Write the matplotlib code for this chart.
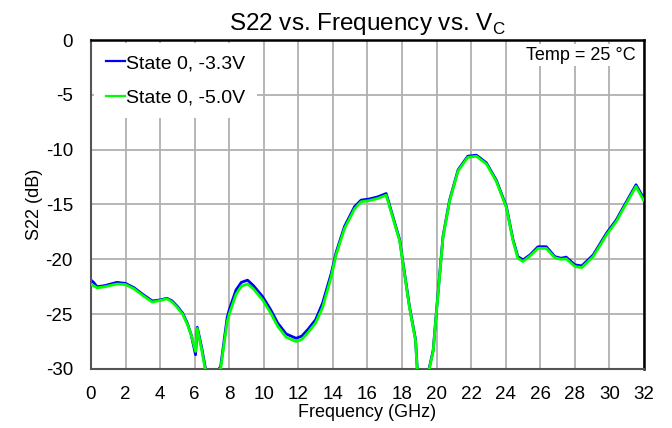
import matplotlib
matplotlib.use("Agg")
import matplotlib.pyplot as plt

plt.rcParams['font.family'] = ['Liberation Sans', 'DejaVu Sans']
plt.rcParams['axes.unicode_minus'] = False

freq_a = [0.0, 0.15, 0.35, 0.8, 1.5, 2.0, 2.5, 3.0, 3.55, 4.0, 4.4, 4.7, 5.0, 5.3, 5.57, 5.8, 6.05, 6.15, 6.4, 6.63, 6.9,
          7.2, 7.4, 7.5, 7.88, 8.0, 8.39, 8.7, 9.06, 9.4, 9.93, 10.4, 10.8, 11.29, 11.87, 12.2, 12.55, 13.0, 13.4, 13.9,
          14.18, 14.67, 15.25, 15.63, 16.1, 16.6, 17.08, 17.86, 18.43, 18.78, 18.88, 19.1, 19.4, 19.56, 19.8, 19.98,
          20.37, 20.75, 21.24, 21.8, 22.3, 22.88, 23.46, 24.04, 24.42, 24.7, 25.0, 25.4, 25.87, 26.35, 26.84, 27.2,
          27.5, 28.0, 28.4, 29.06, 29.84, 30.4, 31.0, 31.54, 31.97]
s22_33v = [-21.9, -22.1, -22.5, -22.4, -22.1, -22.2, -22.6, -23.2, -23.8, -23.7, -23.55, -23.8, -24.3, -24.9, -25.8, -26.9, -28.7, -26.2, -28.0, -30.0, -32.0,
           -32.0, -30.0, -29.8, -25.3, -24.6, -22.8, -22.1, -21.9, -22.4, -23.4, -24.6, -25.8, -26.8, -27.2, -27.0, -26.4, -25.5, -24.0, -21.3,
           -19.4, -17.0, -15.2, -14.6, -14.5, -14.3, -14.0, -18.2, -24.3, -27.3, -30.0, -33.0, -33.0, -30.0, -28.3, -24.9,
           -17.9, -14.6, -11.85, -10.6, -10.5, -11.2, -12.8, -15.2, -18.2, -19.75, -20.05, -19.6, -18.85, -18.85, -19.75, -19.9,
           -19.8, -20.5, -20.6, -19.6, -17.6, -16.4, -14.7, -13.2, -14.4]
s22_50v = [-22.3, -22.4, -22.6, -22.5, -22.25, -22.3, -22.7, -23.3, -23.9, -23.75, -23.6, -23.9, -24.4, -25.0, -25.9, -26.9, -28.4, -26.3, -28.2, -30.2, -32.0,
           -32.0, -30.2, -30.0, -25.7, -25.0, -23.2, -22.45, -22.25, -22.7, -23.7, -24.9, -26.1, -27.1, -27.5, -27.3, -26.7, -25.8, -24.4, -21.6,
           -19.6, -17.2, -15.4, -14.75, -14.65, -14.45, -14.15, -18.3, -24.4, -27.4, -30.1, -33.0, -33.0, -30.1, -28.4, -25.0,
           -18.0, -14.7, -11.95, -10.7, -10.6, -11.3, -12.9, -15.3, -18.3, -19.9, -20.2, -19.7, -19.0, -19.0, -19.85, -20.0,
           -19.95, -20.65, -20.75, -19.75, -17.75, -16.55, -14.85, -13.35, -14.6]

x_ticks = list(range(0, 33, 2))
y_ticks = [0, -5, -10, -15, -20, -25, -30]

fig = plt.figure(figsize=(6.72, 4.28), dpi=100)
ax = fig.add_axes([0.1354, 0.1379, 0.8229, 0.7686])

ax.plot(freq_a, s22_33v, color='#0000ff', lw=2.0, label='State 0, -3.3V', zorder=2)
ax.plot(freq_a, s22_50v, color='#00ff00', lw=2.0, label='State 0, -5.0V', zorder=3)

ax.set_xlim(0, 32)
ax.set_ylim(-30, 0)
ax.set_xticks(x_ticks)
ax.set_yticks(y_ticks)
ax.tick_params(axis='both', length=0, labelsize=13.5)
ax.tick_params(axis='x', pad=12)
ax.tick_params(axis='y', pad=13)
ax.grid(True, color='#b0b0b0', lw=1.3)
ax.set_axisbelow(True)
for side in ['left', 'bottom']:
    ax.spines[side].set_color('#555555')
    ax.spines[side].set_linewidth(1.5)
for side in ['top', 'right']:
    ax.spines[side].set_color('black')
    ax.spines[side].set_linewidth(1.8)

ax.set_xlabel('Frequency (GHz)', fontsize=13, labelpad=1)
ax.set_ylabel('S22 (dB)', fontsize=13, labelpad=2)
ax.set_title('S22 vs. Frequency vs. V$_\\mathregular{C}$', fontsize=17.5, pad=7)

leg = ax.legend(loc='upper left', fontsize=14, frameon=True, fancybox=False,
                edgecolor='none', framealpha=1.0, handlelength=1.0, handletextpad=0.05,
                borderaxespad=0.15, labelspacing=0.85, borderpad=0.6)
for line in leg.get_lines():
    line.set_linewidth(1.6)
ax.text(0.984, 0.954, 'Temp = 25 °C', transform=ax.transAxes, ha='right', va='center',
        fontsize=13, bbox=dict(facecolor='white', edgecolor='none', pad=1.5))

fig.savefig('out.png', dpi=100)
